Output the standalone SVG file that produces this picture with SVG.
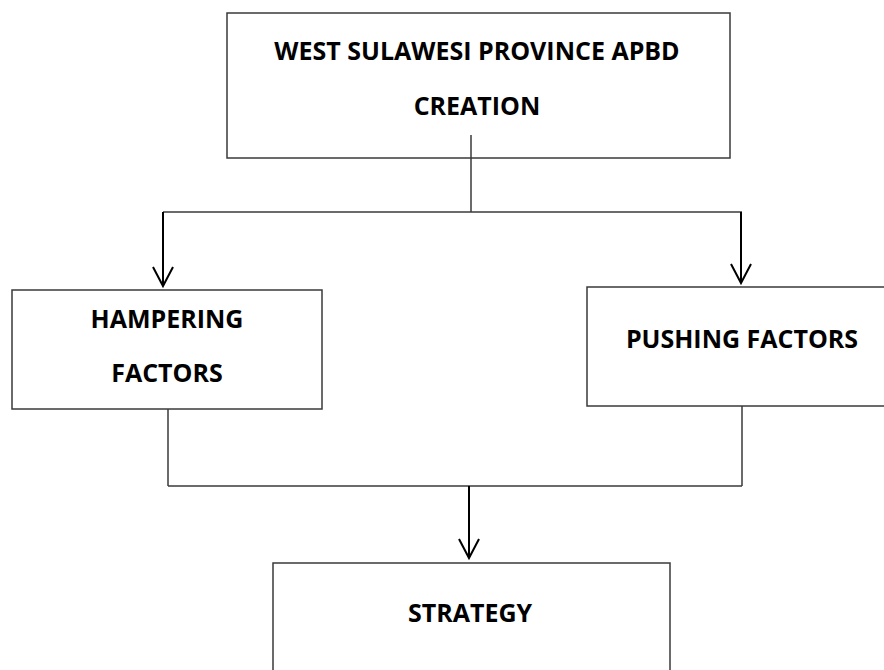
<svg xmlns="http://www.w3.org/2000/svg" width="884" height="670" viewBox="0 0 884 670">
<style>
  .box { fill: #ffffff; stroke: #3a3a3a; stroke-width: 1.5; }
  .lbl { font-family: "Open Sans", "DejaVu Sans", sans-serif; font-weight: bold; font-size: 25px; fill: #000000; text-anchor: middle; }
  .wire { fill: none; stroke: #3a3a3a; stroke-width: 1.5; }
  .arrow { fill: none; stroke: #000000; stroke-width: 2; }
</style>
<defs>
  <marker id="vhead" markerUnits="userSpaceOnUse" markerWidth="24" markerHeight="24" refX="0" refY="0" orient="auto" overflow="visible">
    <path d="M-19,-10 L0,0 L-19,10" fill="none" stroke="#000000" stroke-width="2"/>
  </marker>
</defs>
<rect width="884" height="670" fill="#ffffff"/>
<g id="connectors">
  <line class="wire" x1="471" y1="135" x2="471" y2="212"/>
  <line class="wire" x1="163" y1="212" x2="742" y2="212"/>
  <line class="arrow" x1="163" y1="212" x2="163" y2="286" marker-end="url(#vhead)"/>
  <line class="arrow" x1="741" y1="212" x2="741" y2="283" marker-end="url(#vhead)"/>
  <line class="wire" x1="168" y1="409" x2="168" y2="486"/>
  <line class="wire" x1="742" y1="406" x2="742" y2="486"/>
  <line class="wire" x1="168" y1="486" x2="742" y2="486"/>
  <line class="arrow" x1="469" y1="486" x2="469" y2="558" marker-end="url(#vhead)"/>
</g>
<g id="node-apbd">
  <rect class="box" x="227" y="13" width="503" height="145"/>
  <text class="lbl" x="477" y="60">WEST SULAWESI PROVINCE APBD</text>
  <text class="lbl" x="477" y="115">CREATION</text>
  <line class="wire" x1="471" y1="135" x2="471" y2="158"/>
</g>
<g id="node-hampering">
  <rect class="box" x="12" y="290" width="310" height="119"/>
  <text class="lbl" x="167" y="328">HAMPERING</text>
  <text class="lbl" x="167" y="382">FACTORS</text>
</g>
<g id="node-pushing">
  <rect class="box" x="587" y="287" width="320" height="119"/>
  <text class="lbl" x="742" y="348">PUSHING FACTORS</text>
</g>
<g id="node-strategy">
  <rect class="box" x="273" y="563" width="397" height="120"/>
  <text class="lbl" x="470" y="622">STRATEGY</text>
</g>
</svg>
